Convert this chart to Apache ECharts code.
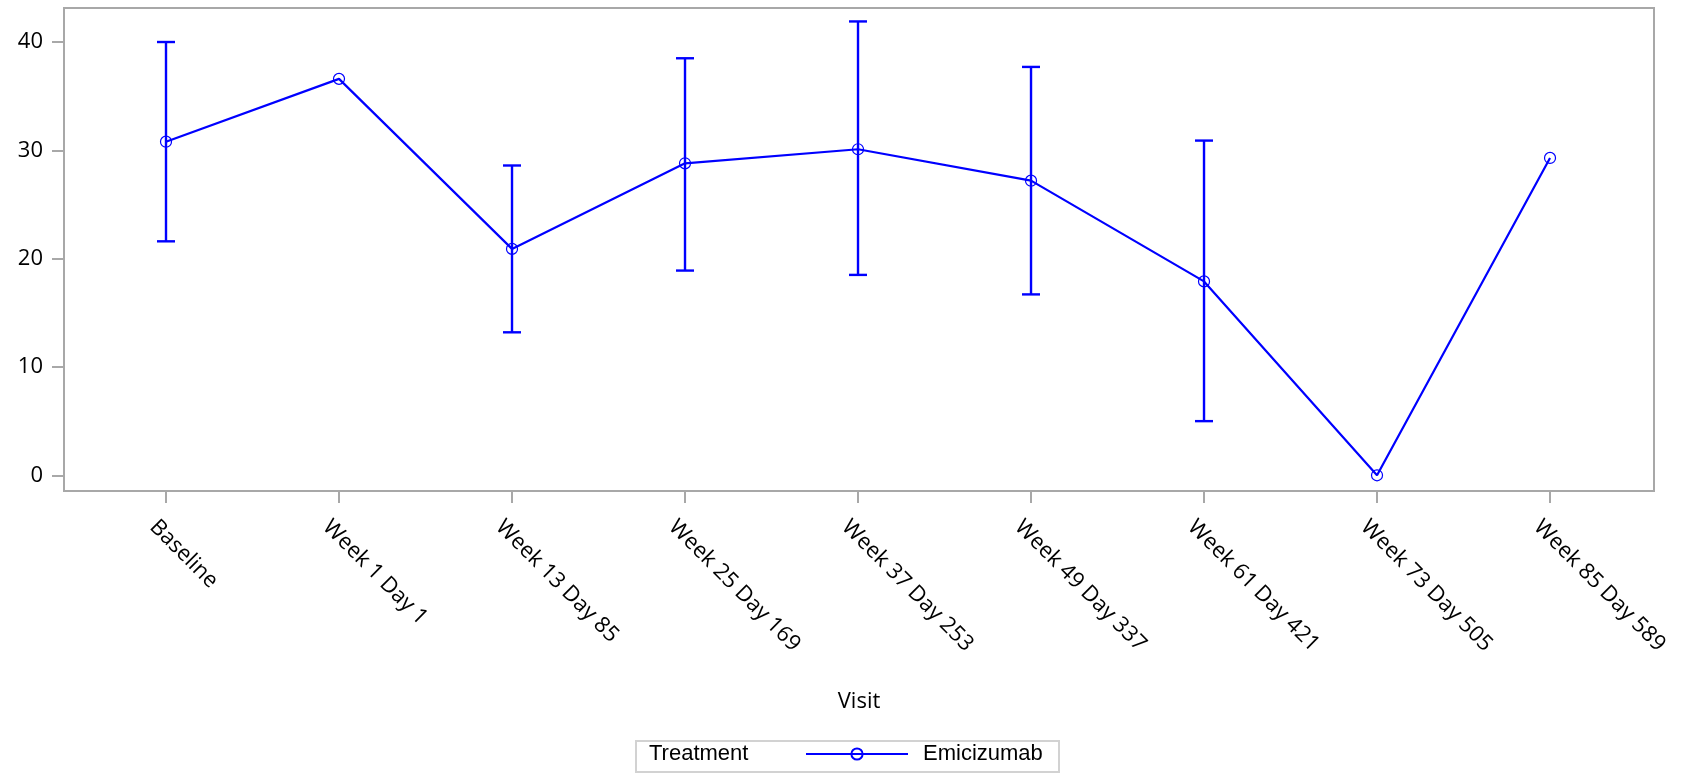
<!DOCTYPE html>
<html>
<head>
<meta charset="utf-8">
<script src="https://cdn.jsdelivr.net/npm/echarts@6/dist/echarts.min.js"></script>
<style>
html,body{margin:0;padding:0;background:#fff;}
#chart{width:1686px;height:773px;}
</style>
</head>
<body>
<div id="chart"></div>
<script>
const categories = ['Baseline','Week 1 Day 1','Week 13 Day 85','Week 25 Day 169','Week 37 Day 253','Week 49 Day 337','Week 61 Day 421','Week 73 Day 505','Week 85 Day 589'];
const means = [30.8, 36.6, 20.9, 28.8, 30.1, 27.2, 17.9, 0, 29.3];
const lower = [21.6, null, 13.2, 18.9, 18.5, 16.7, 5.0, null, null];
const upper = [40.0, null, 28.6, 38.5, 41.9, 37.7, 30.9, null, null];
const yTicks = [0, 10, 20, 30, 40];
const seriesName = 'Emicizumab';
const legendTitle = 'Treatment';
const xTitle = 'Visit';

const xIdx = categories.map((c, i) => i);
const lineData = means.map((v, i) => [i, v]);
const errData = [];
lower.forEach((lo, i) => { if (lo !== null && upper[i] !== null) errData.push([i, lo, upper[i]]); });

const BLUE = '#0000ff';
const FRAME = '#a8a8a8';
const chart = echarts.init(document.getElementById('chart'), null, {renderer: 'canvas'});
chart.setOption({
  animation: false,
  backgroundColor: '#fff',
  grid: {left: 64, right: 32, top: 8, bottom: 282, show: true, borderColor: FRAME, borderWidth: 2, backgroundColor: 'transparent'},
  xAxis: {
    type: 'value', min: -0.5896, max: 8.601,
    name: xTitle, nameLocation: 'middle', nameGap: 200,
    nameTextStyle: {fontFamily: 'Open Sans', fontSize: 22, color: '#000'},
    axisLine: {show: true, onZero: false, lineStyle: {color: FRAME, width: 2}},
    axisTick: {show: true, customValues: xIdx, length: 12, lineStyle: {color: FRAME, width: 2}},
    splitLine: {show: false},
    axisLabel: {
      customValues: xIdx, rotate: -45, margin: 0,
      align: 'left', verticalAlign: 'top', padding: [21, 0, 0, 14],
      fontFamily: 'Open Sans', fontSize: 22, color: '#000',
      formatter: v => categories[Math.round(v)]
    }
  },
  yAxis: {
    type: 'value', min: -1.45, max: 43.14,
    axisLine: {show: true, onZero: false, lineStyle: {color: FRAME, width: 2}},
    axisTick: {show: true, customValues: yTicks, length: 12, lineStyle: {color: FRAME, width: 2}},
    splitLine: {show: false},
    axisLabel: {customValues: yTicks, margin: 21, fontFamily: 'Open Sans', fontSize: 22, color: '#000'}
  },
  legend: {
    show: true, left: 805, top: 743, padding: 0,
    itemWidth: 102, itemHeight: 14,
    textStyle: {fontFamily: 'Liberation Sans', fontSize: 22, color: '#000', padding: [0, 0, 0, 10]},
    data: [seriesName]
  },
  graphic: [
    {type: 'rect', shape: {x: 636, y: 741, width: 423, height: 31}, style: {fill: 'none', stroke: '#d2d2d2', lineWidth: 2}, z: 0},
    {type: 'text', left: 649, top: 743, style: {text: legendTitle, font: '22px "Liberation Sans"', fill: '#000'}}
  ],
  series: [
    {
      type: 'custom', name: 'err', silent: true, z: 2,
      data: errData,
      renderItem: (params, api) => {
        const x = api.value(0);
        const pLo = api.coord([x, api.value(1)]);
        const pHi = api.coord([x, api.value(2)]);
        const hw = 9;
        const st = {stroke: BLUE, lineWidth: 2.4};
        return {type: 'group', children: [
          {type: 'line', shape: {x1: pLo[0], y1: pLo[1], x2: pHi[0], y2: pHi[1]}, style: st},
          {type: 'line', shape: {x1: pHi[0]-hw, y1: pHi[1], x2: pHi[0]+hw, y2: pHi[1]}, style: st},
          {type: 'line', shape: {x1: pLo[0]-hw, y1: pLo[1], x2: pLo[0]+hw, y2: pLo[1]}, style: st}
        ]};
      }
    },
    {
      type: 'line', name: seriesName, z: 3,
      data: lineData,
      symbol: 'circle', symbolSize: 11,
      lineStyle: {color: BLUE, width: 2.2},
      itemStyle: {color: 'rgba(0,0,0,0)', borderColor: BLUE, borderWidth: 1.2},
      emphasis: {disabled: true}
    }
  ]
});
</script>
</body>
</html>
